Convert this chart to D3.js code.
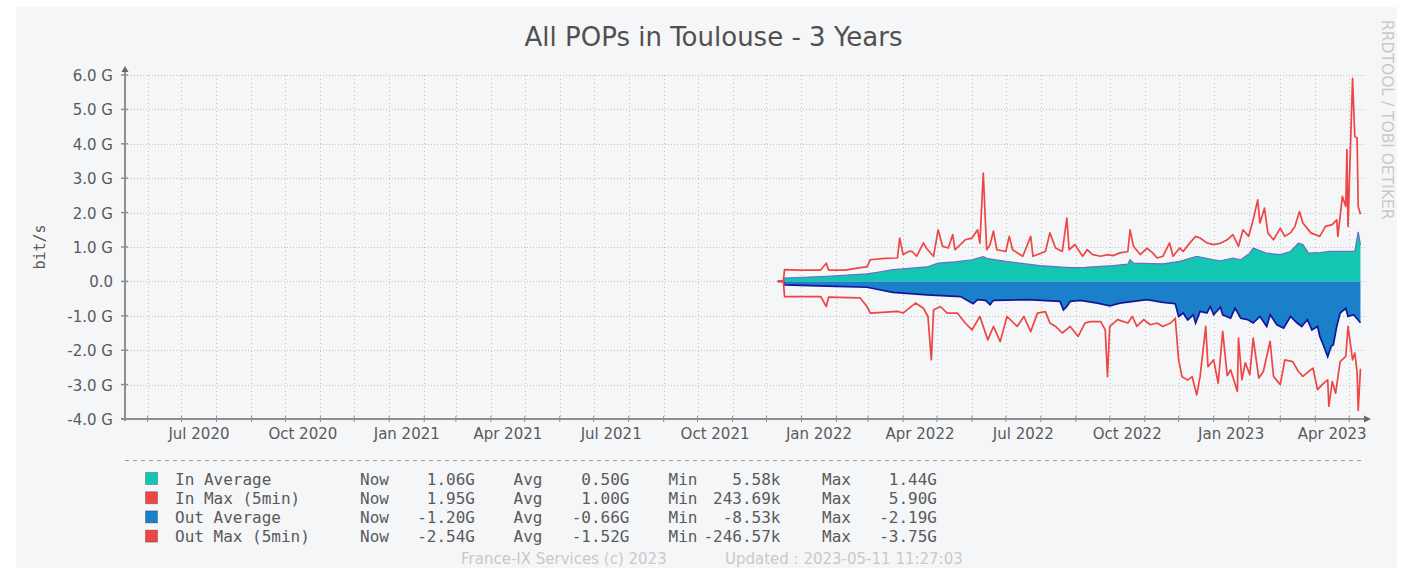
<!DOCTYPE html>
<html><head><meta charset="utf-8">
<script src="https://cdn.jsdelivr.net/npm/d3@7"></script>
<style>html,body{margin:0;padding:0;background:#fff;}svg{display:block}</style>
</head><body><svg id="c" width="1409" height="571"></svg>
<script>
// ---------------- DATA (values in Gbit/s) ----------------
const inAverage = [
["2021-12-11",0],["2021-12-16",0],["2021-12-17",0.10],["2022-01-24",0.15],["2022-02-28",0.22],["2022-03-12",0.28],["2022-03-23",0.34],["2022-04-22",0.42],["2022-05-02",0.53],["2022-05-17",0.57],["2022-06-01",0.63],["2022-06-11",0.72],["2022-06-15",0.66],["2022-07-01",0.58],["2022-07-31",0.46],["2022-08-27",0.40],["2022-09-09",0.41],["2022-10-04",0.46],["2022-10-17",0.50],["2022-10-19",0.63],["2022-10-22",0.53],["2022-11-17",0.51],["2022-12-02",0.58],["2022-12-17",0.73],["2023-01-01",0.63],["2023-01-07",0.60],["2023-01-18",0.68],["2023-01-25",0.63],["2023-02-02",0.82],["2023-02-05",0.97],["2023-02-17",0.82],["2023-03-01",0.78],["2023-03-10",0.87],["2023-03-17",1.11],["2023-03-21",1.07],["2023-03-26",0.82],["2023-04-05",0.84],["2023-04-14",0.87],["2023-04-23",0.87],["2023-05-06",0.87],["2023-05-09",1.44],["2023-05-11",1.06]
];
const inMax = [
["2021-12-11",0],["2021-12-16",0],["2021-12-17",0.34],["2021-12-31",0.33],["2022-01-18",0.33],["2022-01-23",0.53],["2022-01-25",0.33],["2022-02-09",0.33],["2022-02-22",0.40],["2022-02-28",0.42],["2022-03-03",0.63],["2022-03-16",0.67],["2022-03-27",0.68],["2022-03-29",1.26],["2022-04-01",0.78],["2022-04-06",0.87],["2022-04-09",0.87],["2022-04-13",0.73],["2022-04-19",1.12],["2022-04-22",0.95],["2022-04-28",0.73],["2022-05-02",1.50],["2022-05-06",1.02],["2022-05-11",0.97],["2022-05-15",1.36],["2022-05-17",0.92],["2022-05-26",1.21],["2022-06-01",1.26],["2022-06-06",1.50],["2022-06-08",1.11],["2022-06-11",3.15],["2022-06-14",0.92],["2022-06-17",1.07],["2022-06-20",1.46],["2022-06-23",0.92],["2022-07-01",0.87],["2022-07-04",1.31],["2022-07-07",0.92],["2022-07-16",0.73],["2022-07-23",1.31],["2022-07-25",0.73],["2022-08-05",0.87],["2022-08-09",1.41],["2022-08-14",0.97],["2022-08-20",0.87],["2022-08-24",1.84],["2022-08-26",0.92],["2022-08-31",1.07],["2022-09-07",0.73],["2022-09-11",0.92],["2022-09-16",0.78],["2022-09-23",0.73],["2022-09-29",0.78],["2022-10-04",0.75],["2022-10-10",0.83],["2022-10-17",0.87],["2022-10-19",1.50],["2022-10-22",1.02],["2022-10-28",0.78],["2022-11-03",0.97],["2022-11-08",0.83],["2022-11-12",0.68],["2022-11-17",0.73],["2022-11-23",1.12],["2022-11-26",0.73],["2022-12-02",0.97],["2022-12-05",0.87],["2022-12-11",1.12],["2022-12-16",1.31],["2022-12-20",1.26],["2022-12-26",1.12],["2023-01-01",1.07],["2023-01-07",1.11],["2023-01-13",1.21],["2023-01-18",1.36],["2023-01-23",1.02],["2023-01-27",1.50],["2023-02-01",1.31],["2023-02-05",1.79],["2023-02-09",2.37],["2023-02-11",1.70],["2023-02-15",2.13],["2023-02-18",1.41],["2023-02-23",1.21],["2023-03-01",1.55],["2023-03-05",1.31],["2023-03-10",1.41],["2023-03-14",1.60],["2023-03-18",2.03],["2023-03-21",1.70],["2023-03-28",1.41],["2023-04-05",1.31],["2023-04-10",1.60],["2023-04-16",1.65],["2023-04-20",1.79],["2023-04-21",1.31],["2023-04-25",2.47],["2023-04-28",2.18],["2023-04-29",3.83],["2023-04-30",1.60],["2023-05-04",5.90],["2023-05-06",4.21],["2023-05-08",4.17],["2023-05-09",2.18],["2023-05-11",1.95]
];
const outAverage = [
["2021-12-11",0],["2021-12-16",0],["2021-12-17",-0.10],["2022-01-24",-0.14],["2022-02-28",-0.17],["2022-03-12",-0.25],["2022-03-23",-0.32],["2022-04-22",-0.39],["2022-05-22",-0.44],["2022-06-02",-0.65],["2022-06-06",-0.53],["2022-06-13",-0.55],["2022-06-17",-0.68],["2022-06-20",-0.55],["2022-07-20",-0.53],["2022-08-18",-0.58],["2022-08-21",-0.83],["2022-08-24",-0.73],["2022-08-27",-0.58],["2022-09-05",-0.55],["2022-09-20",-0.63],["2022-10-01",-0.71],["2022-10-10",-0.63],["2022-11-03",-0.53],["2022-11-17",-0.61],["2022-11-28",-0.65],["2022-12-01",-1.02],["2022-12-05",-0.92],["2022-12-09",-1.12],["2022-12-14",-0.97],["2022-12-16",-1.21],["2022-12-20",-0.87],["2022-12-26",-0.92],["2022-12-29",-0.73],["2023-01-01",-0.97],["2023-01-07",-0.75],["2023-01-09",-0.97],["2023-01-16",-1.07],["2023-01-20",-0.78],["2023-01-25",-1.07],["2023-01-31",-1.11],["2023-02-05",-1.21],["2023-02-11",-1.02],["2023-02-17",-1.31],["2023-02-20",-0.97],["2023-02-26",-1.26],["2023-03-04",-1.36],["2023-03-10",-1.02],["2023-03-16",-1.21],["2023-03-20",-1.31],["2023-03-25",-1.11],["2023-03-29",-1.41],["2023-04-03",-1.31],["2023-04-05",-1.60],["2023-04-08",-1.84],["2023-04-12",-2.19],["2023-04-15",-1.89],["2023-04-17",-1.84],["2023-04-20",-1.31],["2023-04-23",-0.92],["2023-04-28",-0.78],["2023-04-30",-1.02],["2023-05-05",-0.97],["2023-05-11",-1.20]
];
const outMax = [
["2021-12-11",0],["2021-12-16",0],["2021-12-17",-0.44],["2022-01-18",-0.44],["2022-01-23",-0.73],["2022-01-25",-0.46],["2022-02-22",-0.48],["2022-02-28",-0.73],["2022-03-03",-0.92],["2022-03-27",-0.87],["2022-04-01",-0.92],["2022-04-12",-0.63],["2022-04-19",-0.78],["2022-04-23",-1.02],["2022-04-26",-2.28],["2022-04-28",-0.83],["2022-05-04",-0.73],["2022-05-10",-0.92],["2022-05-19",-0.92],["2022-05-26",-1.21],["2022-06-01",-1.41],["2022-06-08",-1.02],["2022-06-15",-1.70],["2022-06-20",-1.31],["2022-06-26",-1.75],["2022-07-02",-1.02],["2022-07-11",-1.31],["2022-07-17",-1.02],["2022-07-23",-1.46],["2022-07-29",-0.92],["2022-08-05",-0.88],["2022-08-09",-1.21],["2022-08-14",-1.31],["2022-08-20",-1.50],["2022-08-27",-1.31],["2022-09-03",-1.60],["2022-09-09",-1.21],["2022-09-14",-1.17],["2022-09-23",-1.17],["2022-09-27",-1.41],["2022-09-29",-2.77],["2022-10-01",-1.31],["2022-10-08",-1.11],["2022-10-17",-1.21],["2022-10-21",-1.02],["2022-10-25",-1.31],["2022-10-31",-1.11],["2022-11-06",-1.26],["2022-11-12",-1.21],["2022-11-17",-1.31],["2022-11-24",-1.21],["2022-11-28",-1.07],["2022-12-01",-2.28],["2022-12-04",-2.77],["2022-12-09",-2.87],["2022-12-13",-2.77],["2022-12-17",-3.30],["2022-12-20",-2.77],["2022-12-25",-1.31],["2022-12-27",-2.48],["2023-01-01",-2.28],["2023-01-05",-2.96],["2023-01-09",-1.45],["2023-01-13",-2.74],["2023-01-16",-2.57],["2023-01-22",-3.20],["2023-01-23",-1.65],["2023-01-26",-2.86],["2023-01-29",-2.37],["2023-02-02",-2.71],["2023-02-05",-1.65],["2023-02-10",-2.81],["2023-02-14",-2.62],["2023-02-20",-1.74],["2023-02-23",-2.76],["2023-03-01",-3.00],["2023-03-05",-2.28],["2023-03-12",-2.33],["2023-03-17",-2.62],["2023-03-21",-2.76],["2023-03-26",-2.62],["2023-03-30",-2.52],["2023-04-03",-3.15],["2023-04-07",-3.00],["2023-04-12",-2.86],["2023-04-13",-3.63],["2023-04-16",-2.91],["2023-04-19",-3.25],["2023-04-23",-2.33],["2023-04-28",-2.18],["2023-04-30",-1.31],["2023-05-04",-2.28],["2023-05-06",-2.08],["2023-05-08",-2.62],["2023-05-09",-3.75],["2023-05-11",-2.54]
];
const yTickValues = [6,5,4,3,2,1,0,-1,-2,-3,-4];
const yTickLabels = ["6.0 G","5.0 G","4.0 G","3.0 G","2.0 G","1.0 G","0.0","-1.0 G","-2.0 G","-3.0 G","-4.0 G"];
const xTickLabels = ["Jul 2020","Oct 2020","Jan 2021","Apr 2021","Jul 2021","Oct 2021","Jan 2022","Apr 2022","Jul 2022","Oct 2022","Jan 2023","Apr 2023"];
const legendLabels = ["In Average","In Max (5min)","Out Average","Out Max (5min)"];
const legendNow = ["1.06G","1.95G","-1.20G","-2.54G"];
const legendAvg = ["0.50G","1.00G","-0.66G","-1.52G"];
const legendMin = ["5.58k","243.69k","-8.53k","-246.57k"];
const legendMax = ["1.44G","5.90G","-2.19G","-3.75G"];
const titleText = "All POPs in Toulouse - 3 Years";
const yAxisLabel = "bit/s";
const watermark = "RRDTOOL / TOBI OETIKER";
const footerLeft = "France-IX Services (c) 2023";
const footerRight = "Updated : 2023-05-11 11:27:03";
const timeStart = "2020-05-12T00:00";
const timeEnd = "2023-05-11T11:27";

// ---------------- STYLE ----------------
const C = {
  teal:"#12C6B2", tealEdge:"#6A6EC2", blue:"#1A80C9", navy:"#15159A", red:"#EE4545",
  text:"#5a5a5a", light:"#c9c9c9", grid:"#c4c4c4", axis:"#8f8f8f", panel:"#f5f6f8"
};
const L = {left:125, right:1361, top:75, bottom:419};

const svg = d3.select("#c");
const parseDay = d3.utcParse("%Y-%m-%d");
const parseT = d3.utcParse("%Y-%m-%dT%H:%M");
const prep = arr => arr.map(d => ({date: parseDay(d[0]), v: d[1]}));
const sIn = prep(inAverage), sInMax = prep(inMax), sOut = prep(outAverage), sOutMax = prep(outMax);

const x = d3.scaleUtc().domain([parseT(timeStart), parseT(timeEnd)]).range([L.left, L.right]);
const y = d3.scaleLinear().domain([-4, 6]).range([L.bottom, L.top]);

// panel background
svg.append("rect").attr("x",16).attr("y",7).attr("width",1381).attr("height",561).attr("fill",C.panel);

// title
svg.append("text").attr("x",713.5).attr("y",46).attr("text-anchor","middle")
  .attr("font-family","DejaVu Sans").attr("font-size",26).attr("fill","#505050").text(titleText);

// watermark
svg.append("text").attr("transform","translate(1382,20) rotate(90)")
  .attr("font-family","DejaVu Sans").attr("font-size",15.5).attr("fill",C.light).text(watermark);

// y label
svg.append("text").attr("transform","translate(45,247) rotate(-90)").attr("text-anchor","middle")
  .attr("font-family","DejaVu Sans Mono").attr("font-size",15).attr("fill",C.text).text(yAxisLabel);

// grid
const g = svg.append("g");
const months = d3.utcMonth.range(d3.utcMonth.ceil(x.domain()[0]), x.domain()[1]);
g.selectAll(".vg").data(months).join("line")
  .attr("x1",d=>Math.round(x(d))+0.5).attr("x2",d=>Math.round(x(d))+0.5)
  .attr("y1",L.top).attr("y2",L.bottom)
  .attr("stroke",C.grid).attr("stroke-width",1).attr("stroke-dasharray","1,3");
g.selectAll(".hg").data(yTickValues.filter(v=>v>-4)).join("line")
  .attr("x1",L.left).attr("x2",L.right+4)
  .attr("y1",d=>Math.round(y(d))+0.5).attr("y2",d=>Math.round(y(d))+0.5)
  .attr("stroke",C.grid).attr("stroke-width",1).attr("stroke-dasharray","1,2");

// data
svg.append("defs").append("clipPath").attr("id","pc").append("rect")
  .attr("x",L.left).attr("y",L.top-12).attr("width",L.right-L.left+1).attr("height",L.bottom-L.top+12);
const d = svg.append("g").attr("clip-path","url(#pc)");
const area = d3.area().x(p=>x(p.date)).y0(y(0)).y1(p=>y(p.v));
const line = d3.line().x(p=>x(p.date)).y(p=>y(p.v));
d.append("path").datum(sIn).attr("d",area).attr("fill",C.teal);
d.append("path").datum(sIn).attr("d",line).attr("fill","none").attr("stroke",C.tealEdge).attr("stroke-width",1.2);
d.append("path").datum(sOut).attr("d",area).attr("fill",C.blue);
d.append("path").datum(sOut).attr("d",line).attr("fill","none").attr("stroke",C.navy).attr("stroke-width",1.7);
d.append("path").datum(sInMax).attr("d",line).attr("fill","none").attr("stroke",C.red).attr("stroke-width",1.7).attr("stroke-linejoin","round");
d.append("path").datum(sOutMax).attr("d",line).attr("fill","none").attr("stroke",C.red).attr("stroke-width",1.7).attr("stroke-linejoin","round");

// axes
const ax = svg.append("g");
ax.append("line").attr("x1",L.left).attr("x2",L.left).attr("y1",L.bottom+2).attr("y2",L.top-5)
  .attr("stroke",C.axis).attr("stroke-width",2);
ax.append("path").attr("d",`M${L.left-3.5},${L.top-3}L${L.left+3.5},${L.top-3}L${L.left},${L.top-9}Z`).attr("fill","#666");
ax.append("line").attr("x1",L.left-4).attr("x2",L.right+4).attr("y1",L.bottom).attr("y2",L.bottom)
  .attr("stroke",C.axis).attr("stroke-width",2);
ax.append("path").attr("d",`M${L.right+3},${L.bottom-3.5}L${L.right+3},${L.bottom+3.5}L${L.right+10},${L.bottom}Z`).attr("fill","#666");
ax.selectAll(".yt").data(yTickValues).join("line")
  .attr("x1",L.left-4).attr("x2",L.left+3).attr("y1",v=>y(v)).attr("y2",v=>y(v))
  .attr("stroke",C.axis).attr("stroke-width",1.5);
ax.selectAll(".xt").data(months).join("line")
  .attr("x1",m=>x(m)).attr("x2",m=>x(m)).attr("y1",L.bottom-3).attr("y2",L.bottom+3)
  .attr("stroke",C.axis).attr("stroke-width",1);
ax.selectAll(".yl").data(yTickValues).join("text")
  .attr("x",113).attr("y",(v)=>y(v)+6).attr("text-anchor","end")
  .attr("font-family","DejaVu Sans").attr("font-size",15).attr("fill",C.text)
  .text((v,i)=>yTickLabels[i]);
const parseLab = d3.utcParse("%b %Y");
ax.selectAll(".xl").data(xTickLabels).join("text")
  .attr("x",s=>{const m=parseLab(s); return (x(m)+x(d3.utcMonth.offset(m,1)))/2;})
  .attr("y",439).attr("text-anchor","middle")
  .attr("font-family","DejaVu Sans").attr("font-size",15).attr("fill",C.text).text(s=>s);

// legend separator
svg.append("line").attr("x1",L.left).attr("x2",L.right+2).attr("y1",460.5).attr("y2",460.5)
  .attr("stroke","#9a9a9a").attr("stroke-width",1).attr("stroke-dasharray","4,4");

// legend
const legColors = [C.teal, C.red, C.blue, C.red];
const lg = svg.append("g").attr("font-family","DejaVu Sans Mono").attr("font-size",16).attr("fill",C.text);
legendLabels.forEach((lab,i)=>{
  const by = 484.5 + i*19.2;
  lg.append("rect").attr("x",145.5).attr("y",by-12).attr("width",12).attr("height",12)
    .attr("fill",legColors[i]).attr("stroke","rgba(0,0,0,0.25)").attr("stroke-width",1);
  lg.append("text").attr("x",175).attr("y",by).text(lab);
  lg.append("text").attr("x",360).attr("y",by).text("Now");
  lg.append("text").attr("x",475).attr("y",by).attr("text-anchor","end").text(legendNow[i]);
  lg.append("text").attr("x",513.5).attr("y",by).text("Avg");
  lg.append("text").attr("x",629.5).attr("y",by).attr("text-anchor","end").text(legendAvg[i]);
  lg.append("text").attr("x",668.5).attr("y",by).text("Min");
  lg.append("text").attr("x",780.5).attr("y",by).attr("text-anchor","end").text(legendMin[i]);
  lg.append("text").attr("x",822).attr("y",by).text("Max");
  lg.append("text").attr("x",937).attr("y",by).attr("text-anchor","end").text(legendMax[i]);
});

// footer
svg.append("text").attr("x",461).attr("y",564).attr("font-family","DejaVu Sans").attr("font-size",15)
  .attr("fill",C.light).text(footerLeft);
svg.append("text").attr("x",725).attr("y",564).attr("font-family","DejaVu Sans").attr("font-size",15)
  .attr("fill",C.light).text(footerRight);
</script></body></html>
